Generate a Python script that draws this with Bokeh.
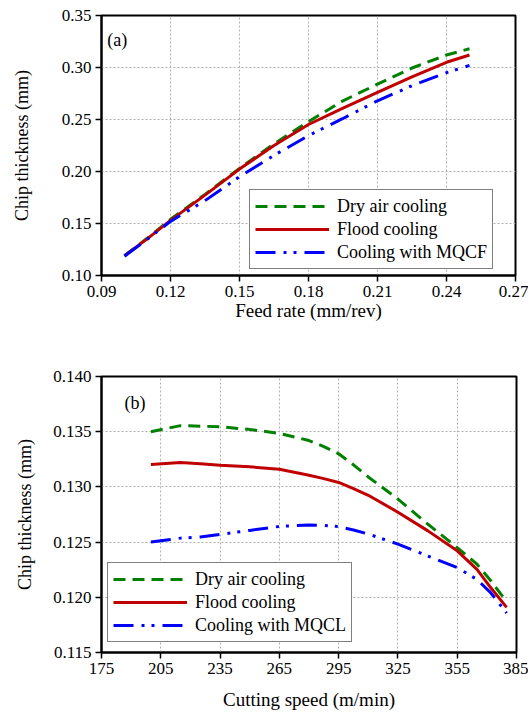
from bokeh.plotting import figure
from bokeh.layouts import column
from bokeh.models import Legend, LegendItem, FixedTicker, NumeralTickFormatter, Label, Range1d
from bokeh.embed import file_html
from bokeh.resources import INLINE

# ---- Panel (a) data ----
feed_rate = [0.100, 0.110, 0.120, 0.135, 0.150, 0.165, 0.180, 0.195, 0.210, 0.225, 0.240, 0.250]
a_dry = [0.119, 0.136, 0.154, 0.178, 0.203, 0.2265, 0.248, 0.268, 0.284, 0.2995, 0.312, 0.318]
a_flood = [0.119, 0.1355, 0.153, 0.1773, 0.2023, 0.225, 0.2452, 0.261, 0.276, 0.291, 0.305, 0.312]
a_mqcf = [0.1185, 0.135, 0.152, 0.172, 0.195, 0.2155, 0.2345, 0.251, 0.268, 0.2825, 0.295, 0.302]
a_xticks = [0.09, 0.12, 0.15, 0.18, 0.21, 0.24, 0.27]
a_yticks = [0.10, 0.15, 0.20, 0.25, 0.30, 0.35]

# ---- Panel (b) data ----
cutting_speed = [200, 215, 225, 235, 250, 265, 280, 287.5, 295, 302.5, 310, 325, 340, 355, 365, 372, 380]
b_dry = [0.1350, 0.13555, 0.1355, 0.13545, 0.1352, 0.13485, 0.1342, 0.13365, 0.1330, 0.1320, 0.1309, 0.1289, 0.12665, 0.1245, 0.1230, 0.1215, 0.1196]
b_flood = [0.13203, 0.13221, 0.1321, 0.13197, 0.13182, 0.1316, 0.13106, 0.13075, 0.1304, 0.12985, 0.12924, 0.12771, 0.12604, 0.12421, 0.12253, 0.12086, 0.11909]
b_mqcl = [0.1250, 0.12536, 0.12547, 0.1257, 0.12606, 0.12642, 0.12655, 0.12652, 0.1264, 0.1261, 0.12573, 0.12482, 0.12375, 0.12269, 0.12162, 0.1204, 0.11857]
b_xticks = [175, 205, 235, 265, 295, 325, 355, 385]
b_yticks = [0.115, 0.120, 0.125, 0.130, 0.135, 0.140]

labels_a = ["Dry air cooling", "Flood cooling", "Cooling with MQCF"]
labels_b = ["Dry air cooling", "Flood cooling", "Cooling with MQCL"]

FONT = "'Liberation Serif', 'Times New Roman', serif"
GREEN = "#008000"
RED = "#c00000"
BLUE = "#0000ff"


def style(p, xlab, ylab, xfmt, yfmt, xticks, yticks, xstand, ystand):
    p.background_fill_color = "white"
    p.border_fill_color = "white"
    p.outline_line_color = "black"
    p.outline_line_width = 2
    p.xaxis.ticker = FixedTicker(ticks=xticks)
    p.yaxis.ticker = FixedTicker(ticks=yticks)
    p.xaxis.formatter = NumeralTickFormatter(format=xfmt)
    p.yaxis.formatter = NumeralTickFormatter(format=yfmt)
    p.xaxis.axis_label = xlab
    p.yaxis.axis_label = ylab
    p.xaxis.axis_label_standoff = xstand
    p.yaxis.axis_label_standoff = ystand
    for ax in [p.xaxis, p.yaxis]:
        ax.axis_line_color = "black"
        ax.axis_line_width = 2
        ax.major_tick_line_color = "black"
        ax.major_tick_line_width = 1.5
        ax.major_tick_out = 6
        ax.major_tick_in = 0
        ax.minor_tick_line_color = None
        ax.major_label_text_font = FONT
        ax.major_label_text_font_size = "17px"
        ax.major_label_text_color = "black"
        ax.axis_label_text_font = FONT
        ax.axis_label_text_font_style = "normal"
        ax.axis_label_text_color = "black"
        ax.major_label_standoff = 4
    p.xaxis.axis_label_text_font_size = "19px"
    p.yaxis.axis_label_text_font_size = "18px"
    for g in [p.xgrid, p.ygrid]:
        g.grid_line_color = "#b0b0b0"
        g.grid_line_dash = "2 2"
        g.grid_line_width = 1


def add_legend(p, renderers, labels, loc):
    items = [LegendItem(label=l, renderers=[r]) for l, r in zip(labels, renderers)]
    lg = Legend(items=items, location=loc)
    lg.border_line_color = "black"
    lg.border_line_width = 1.5
    lg.background_fill_color = "white"
    lg.background_fill_alpha = 1
    lg.label_text_font = FONT
    lg.label_text_font_size = "18px"
    lg.label_text_color = "black"
    lg.glyph_width = 74
    lg.glyph_height = 22
    lg.label_height = 22
    lg.label_standoff = 8
    lg.spacing = 1
    lg.padding = 5
    lg.margin = 0
    p.add_layout(lg, "center")


# ---- Figure (a) ----
p1 = figure(frame_width=414, frame_height=260, output_backend="svg", toolbar_location=None,
            x_range=Range1d(0.09, 0.27), y_range=Range1d(0.10, 0.35),
            min_border_left=100, min_border_right=14, min_border_top=15, min_border_bottom=60)
style(p1, "Feed rate (mm/rev)", "Chip thickness (mm)", "0.00", "0.00", a_xticks, a_yticks, 0, 27)
r1 = p1.line(feed_rate, a_dry, line_color=GREEN, line_width=3, line_dash="12 7")
r2 = p1.line(feed_rate, a_flood, line_color=RED, line_width=3)
r3 = p1.line(feed_rate, a_mqcf, line_color=BLUE, line_width=3, line_dash="20 8 3 7 3 8")
add_legend(p1, [r1, r2, r3], labels_a, (148, 6))
p1.add_layout(Label(x=0.0925, y=0.326, text="(a)", text_font=FONT, text_font_size="18px",
                    text_baseline="middle", text_color="black"))

# ---- Figure (b) ----
p2 = figure(frame_width=415, frame_height=276, output_backend="svg", toolbar_location=None,
            x_range=Range1d(175, 385), y_range=Range1d(0.115, 0.140),
            min_border_left=101, min_border_right=12, min_border_top=41, min_border_bottom=55)
style(p2, "Cutting speed (m/min)", "Chip thickness (mm)", "0", "0.000", b_xticks, b_yticks, 12, 15)
s1 = p2.line(cutting_speed, b_dry, line_color=GREEN, line_width=3, line_dash="12 7")
s2 = p2.line(cutting_speed, b_flood, line_color=RED, line_width=3)
s3 = p2.line(cutting_speed, b_mqcl, line_color=BLUE, line_width=3, line_dash="20 8 3 7 3 8")
add_legend(p2, [s1, s2, s3], labels_b, (6, 10))
p2.add_layout(Label(x=186.6, y=0.13764, text="(b)", text_font=FONT, text_font_size="18px",
                    text_baseline="middle", text_color="black"))

layout = column(p1, p2, spacing=0)
open("out.html", "w").write(file_html(layout, INLINE))
